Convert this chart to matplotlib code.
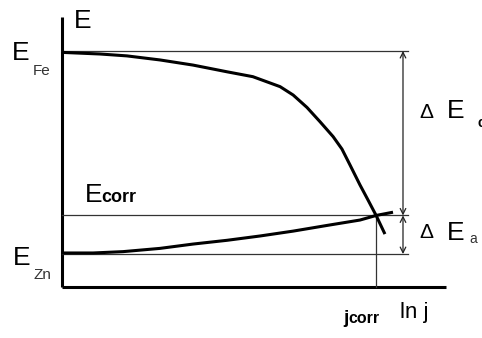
import matplotlib
matplotlib.use("Agg")
import matplotlib.pyplot as plt

plt.rcParams['font.family'] = ['Liberation Sans', 'DejaVu Sans']

# Potential levels (arbitrary units) and corrosion current position
E_FE = 8.74
E_CORR = 2.65
E_ZN = 1.22
J_CORR = 8.18

# Cathodic polarisation curve (Fe)
cath_lnj = [0.0, 0.99, 1.69, 2.55, 3.41, 4.30, 4.97, 5.68, 6.02, 6.38, 6.72,
            7.06, 7.29, 7.50, 7.76, 7.97, 8.18, 8.41]
cath_E = [8.69, 8.63, 8.56, 8.41, 8.22, 7.97, 7.79, 7.42, 7.11, 6.65, 6.12,
          5.57, 5.11, 4.52, 3.78, 3.22, 2.65, 1.96]

# Anodic polarisation curve (Zn)
anod_lnj = [0.0, 0.81, 1.59, 2.55, 3.41, 4.30, 5.16, 6.02, 6.90, 7.76, 8.18, 8.62]
anod_E = [1.26, 1.26, 1.31, 1.43, 1.59, 1.73, 1.89, 2.07, 2.28, 2.48, 2.65, 2.77]

X_END = 10.0      # length of ln j axis
Y_END = 10.0      # length of E axis
LEVEL_END = 9.02  # right end of the level lines
ARROW_X = 8.88    # position of the potential-difference arrows

fig = plt.figure(figsize=(4.82, 3.38), dpi=100)
ax = fig.add_axes([0, 0, 1, 1])
ax.set_xlim(-1.615, 10.9375)
ax.set_ylim(-1.889, 10.63)
ax.axis('off')

# axes
ax.plot([0, 0], [0, Y_END], color='black', lw=2.2, solid_capstyle='butt')
ax.plot([0, X_END], [0, 0], color='black', lw=2.2, solid_capstyle='butt')

# level lines
thin = dict(color='#333333', lw=0.9)
for lev in (E_FE, E_CORR, E_ZN):
    ax.plot([0, LEVEL_END], [lev, lev], **thin)
ax.plot([J_CORR, J_CORR], [0, E_CORR], **thin)

# polarisation curves
ax.plot(cath_lnj, cath_E, color='black', lw=2.2, solid_capstyle='butt',
        solid_joinstyle='round')
ax.plot(anod_lnj, anod_E, color='black', lw=2.2, solid_capstyle='butt',
        solid_joinstyle='round')

# potential differences
arr = dict(arrowstyle='<->,head_length=0.4,head_width=0.2', color='#222222',
           lw=0.9, shrinkA=0, shrinkB=0, mutation_scale=10)
ax.annotate('', xy=(ARROW_X, E_FE), xytext=(ARROW_X, E_CORR), arrowprops=arr)
ax.annotate('', xy=(ARROW_X, E_CORR), xytext=(ARROW_X, E_ZN), arrowprops=arr)

big = 19
sub = 11
ax.text(0.31, 9.59, 'E', fontsize=big, ha='left', va='baseline')
ax.text(-1.30, 8.41, 'E', fontsize=big, ha='left', va='baseline')
ax.text(-0.755, 7.85, 'Fe', fontsize=sub, ha='left', va='baseline', color='#333333')
ax.text(-1.276, 0.815, 'E', fontsize=big, ha='left', va='baseline')
ax.text(-0.73, 0.296, 'Zn', fontsize=sub, ha='left', va='baseline', color='#333333')

ax.text(0.60, 3.15, 'E', fontsize=big, ha='left', va='baseline')
ax.text(1.02, 3.15, 'corr', fontsize=13, fontweight='bold', ha='left', va='baseline')

ax.text(9.30, 6.26, 'Δ', fontsize=15, ha='left', va='baseline')
ax.text(10.03, 6.26, 'E', fontsize=big, ha='left', va='baseline')
ax.text(10.81, 5.93, 'c', fontsize=10, fontweight='bold', ha='left', va='baseline')

ax.text(9.30, 1.81, 'Δ', fontsize=15, ha='left', va='baseline')
ax.text(10.03, 1.74, 'E', fontsize=big, ha='left', va='baseline')
ax.text(10.60, 1.63, 'a', fontsize=10, ha='left', va='baseline', color='#333333')

ax.text(7.32, -1.33, 'j', fontsize=14, fontweight='bold', ha='left', va='baseline')
ax.text(7.47, -1.33, 'corr', fontsize=11.5, fontweight='bold', ha='left', va='baseline')
ax.text(8.80, -1.15, 'ln j', fontsize=16, ha='left', va='baseline')

fig.savefig('out.png', dpi=100)
